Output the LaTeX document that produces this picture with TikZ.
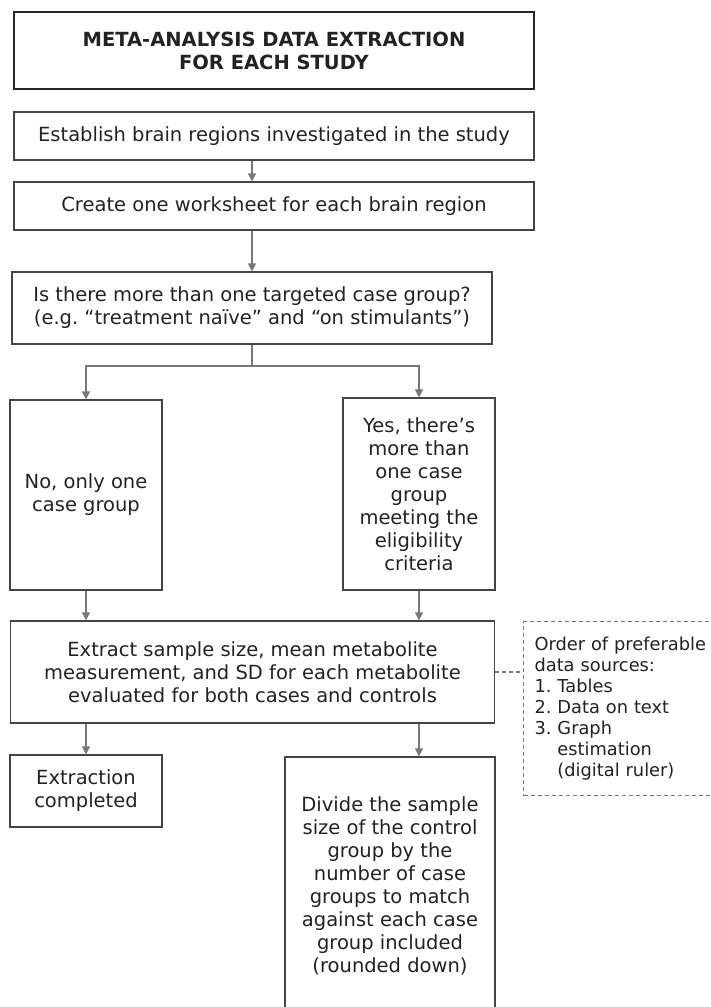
\documentclass[tikz,border=0pt]{standalone}
\usepackage{fontspec}
\setmainfont{DejaVu Sans}
\usepackage{tikz}
\usetikzlibrary{arrows.meta}
\definecolor{boxline}{HTML}{444444}
\definecolor{arrowline}{HTML}{777777}
\definecolor{txt}{HTML}{222222}
\frenchspacing

\tikzset{
  stepbox/.style={rectangle, draw=boxline, line width=1.2pt, align=center, text=txt,
    font=\fontsize{19.5}{23}\selectfont},
  arrow/.style={draw=arrowline, line width=1.3pt, -{Stealth[inset=0pt,length=8pt,width=8pt]}},
  link/.style={draw=arrowline, line width=1.3pt},
  dashlink/.style={draw=arrowline, line width=1.1pt, dash pattern=on 4pt off 3pt}
}

\begin{document}
\begin{tikzpicture}[x=1pt, y=-1pt]

        \useasboundingbox (0,0) rectangle (710,1007);

        \node[stepbox, draw=black!85, minimum width=520pt, minimum height=77pt] (title) at (274,50.5) {\textbf{META-ANALYSIS DATA EXTRACTION}\\\textbf{FOR EACH STUDY}};
        \node[stepbox, minimum width=520pt, minimum height=48pt] (establish) at (274,136) {Establish brain regions investigated in the study};
        \node[stepbox, minimum width=520pt, minimum height=48pt] (worksheet) at (274,206) {Create one worksheet for each brain region};
        \node[stepbox, minimum width=480pt, minimum height=72pt] (question) at (252,308) {Is there more than one targeted case group?\\(e.g. “treatment naïve” and “on stimulants”)};
        \node[stepbox, minimum width=152pt, minimum height=190pt] (no) at (86,495) {No, only one\\case group};
        \node[stepbox, minimum width=152pt, minimum height=192pt] (yes) at (419,494) {Yes, there’s\\more than\\one case\\group\\meeting the\\eligibility\\criteria};
        \node[stepbox, minimum width=484pt, minimum height=102pt] (extract) at (252.5,672) {Extract sample size, mean metabolite\\measurement, and SD for each metabolite\\evaluated for both cases and controls};
        \node[stepbox, minimum width=152pt, minimum height=72pt] (done) at (86,791) {Extraction\\completed};
        \node[stepbox, minimum width=210pt, minimum height=258pt] (divide) at (390,886) {Divide the sample\\size of the control\\group by the\\number of case\\groups to match\\against each case\\group included\\(rounded down)};
        \node[stepbox, draw=arrowline, dashlink, align=left, text width=176pt, inner xsep=11pt, minimum height=174pt, anchor=north west,
              font=\fontsize{17.8}{21}\selectfont] (sources) at (523,621) {Order of preferable\\data sources:\\1. Tables\\2. Data on text\\3. Graph\\\phantom{3.}\ estimation\\\phantom{3.}\ (digital ruler)};

        \coordinate (split) at (252,366);

        \draw[arrow] (establish.south -| question.north) -- (worksheet.north -| question.north);
        \draw[arrow] (worksheet.south -| question.north) -- (question.north);
        \draw[link] (question.south) -- (split);
        \draw[arrow] (split) -| (no.north);
        \draw[arrow] (split) -| (yes.north);
        \draw[arrow] (no.south) -- (no.south |- extract.north);
        \draw[arrow] (yes.south) -- (yes.south |- extract.north);
        \draw[arrow] (extract.south -| done.north) -- (done.north);
        \draw[arrow] (extract.south -| yes.south) -- (divide.north -| yes.south);
        \draw[dashlink] (extract.east) -- (extract.east -| sources.west);

    \end{tikzpicture}
\end{document}
